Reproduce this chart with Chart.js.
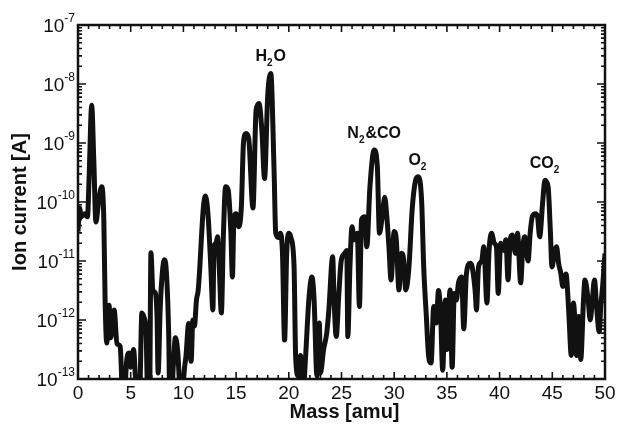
<!DOCTYPE html>
<html>
<head>
<meta charset="utf-8">
<script src="https://cdn.jsdelivr.net/npm/chart.js@4.4.0/dist/chart.umd.min.js"></script>
<style>
    html, body { margin: 0; padding: 0; background: #fff; }
    #wrap { width: 627px; height: 436px; }
</style>
</head>
<body>
<div id="wrap"><canvas id="spectrum" width="627" height="436"></canvas></div>
<script>
// Residual gas mass spectrum: ion current vs mass
var massAmu = [
    0.0, 0.15, 0.3, 0.6, 0.9, 1.05, 1.3, 1.5, 1.7, 1.95,
    2.25, 2.45, 2.57, 2.73, 2.95, 3.1, 3.25, 3.43, 3.7, 4.0,
    4.16, 4.38, 4.63, 4.85, 5.0, 5.27, 5.5, 5.84, 6.06, 6.27,
    6.46, 6.6, 6.8, 6.92, 7.1, 7.33, 7.5, 7.6, 7.8, 8.0,
    8.19, 8.35, 8.6, 8.7, 8.9, 9.05, 9.24, 9.47, 9.65, 9.9,
    10.1, 10.25, 10.5, 10.73, 10.9, 11.05, 11.24, 11.4, 11.56, 11.7,
    11.9, 12.1, 12.35, 12.6, 12.8, 12.9, 13.1, 13.24, 13.4, 13.6,
    13.8, 14.0, 14.25, 14.5, 14.65, 14.8, 15.0, 15.25, 15.5, 15.7,
    15.95, 16.2, 16.6, 16.9, 17.17, 17.45, 17.7, 18.0, 18.29, 18.6,
    18.76, 19.0, 19.2, 19.4, 19.6, 19.8, 20.0, 20.2, 20.5, 20.65,
    20.9, 21.1, 21.4, 21.6, 21.9, 22.19, 22.4, 22.67, 22.9, 23.0,
    23.3, 23.6, 23.8, 24.16, 24.3, 24.5, 24.75, 24.97, 25.3, 25.5,
    25.6, 25.8, 26.0, 26.2, 26.5, 26.7, 26.9, 27.2, 27.4, 27.7,
    28.1, 28.4, 28.6, 28.86, 29.1, 29.3, 29.5, 29.7, 30.0, 30.2,
    30.45, 30.7, 30.9, 31.1, 31.4, 31.7, 32.0, 32.25, 32.6, 32.8,
    33.05, 33.27, 33.5, 33.75, 34.0, 34.2, 34.4, 34.6, 34.85, 35.0,
    35.3, 35.5, 35.7, 35.9, 36.1, 36.4, 36.6, 36.85, 37.2, 37.4,
    37.7, 37.8, 38.0, 38.3, 38.5, 38.8, 39.0, 39.24, 39.5, 39.7,
    39.87, 40.1, 40.4, 40.6, 40.8, 41.0, 41.2, 41.5, 41.7, 42.0,
    42.2, 42.4, 42.7, 42.9, 43.1, 43.4, 43.6, 43.8, 44.1, 44.3,
    44.6, 44.8, 44.97, 45.2, 45.4, 45.6, 45.8, 46.0, 46.3, 46.5,
    46.6, 46.8, 47.0, 47.2, 47.3, 47.5, 47.7, 47.96, 48.1, 48.4,
    48.6, 48.8, 49.0, 49.2, 49.45, 49.6, 49.8, 50.0
];

// exponent of the ion current (A), i.e. log10(I)
var logCurrent = [
    -10.5, -10.1, -10.25, -10.2, -10.25, -9.6, -8.36, -9.3, -10.34, -10.0,
    -9.74, -10.3, -11.66, -12.39, -11.75, -12.3, -12.1, -11.83, -12.4, -12.45,
    -13.0, -13.3, -12.67, -12.56, -12.8, -12.5, -13.1, -13.3, -11.88, -11.96,
    -12.2, -13.2, -13.2, -10.86, -11.49, -11.54, -11.96, -12.9, -11.8, -11.2,
    -10.98, -11.1, -12.2, -13.2, -13.2, -12.75, -12.3, -12.55, -13.1, -13.2,
    -12.82, -12.6, -12.06, -12.7, -12.0, -12.1, -11.66, -11.5, -11.1, -10.64,
    -10.08, -9.9, -10.25, -11.1, -11.83, -10.76, -10.7, -10.59, -11.1, -11.88,
    -10.53, -9.74, -9.8, -10.5, -11.27, -10.25, -10.2, -10.42, -10.08, -9.0,
    -8.84, -8.93, -10.1, -8.44, -8.33, -8.8, -9.6, -8.2, -7.82, -9.44,
    -10.53, -10.6, -10.53, -10.87, -12.34, -10.87, -10.53, -10.6, -11.1, -12.62,
    -12.95, -12.6, -13.1, -12.6, -11.66, -11.27, -11.66, -12.95, -12.05, -12.9,
    -12.5, -12.22, -11.83, -10.93, -11.66, -12.28, -11.55, -11.0, -10.87, -10.82,
    -12.28, -11.1, -10.42, -10.64, -10.53, -11.77, -10.3, -10.25, -10.76, -9.74,
    -9.12, -9.4, -10.53, -10.25, -9.92, -10.25, -10.76, -11.32, -10.5, -10.64,
    -11.49, -10.87, -10.98, -11.49, -11.1, -10.14, -9.65, -9.57, -9.97, -11.1,
    -11.94, -12.62, -12.73, -11.77, -12.05, -11.5, -11.88, -12.85, -11.66, -12.5,
    -11.49, -12.8, -11.55, -11.66, -11.37, -11.27, -12.15, -11.22, -11.04, -11.1,
    -11.55, -11.83, -11.1, -11.0, -10.76, -11.71, -10.82, -10.53, -10.7, -10.76,
    -11.55, -10.7, -10.82, -10.64, -11.32, -10.64, -10.56, -10.87, -10.53, -11.37,
    -10.76, -10.59, -11.0, -10.53, -10.25, -10.2, -10.25, -10.59, -9.97, -9.63,
    -9.74, -10.42, -11.1, -10.87, -10.76, -11.04, -11.2, -11.43, -11.22, -11.66,
    -12.0, -12.6, -11.71, -12.2, -12.6, -11.94, -12.67, -11.66, -11.32, -11.66,
    -12.0, -11.66, -11.32, -11.77, -12.2, -11.77, -11.37, -10.87
];

var xTicks = [0, 5, 10, 15, 20, 25, 30, 35, 40, 45, 50];
var yDecades = [-13, -12, -11, -10, -9, -8, -7];

// peak labels: formula pieces [text, isSubscript], anchored at a peak mass
var peakLabels = [
    { mass: 18.29, parts: [['H', false], ['2', true], ['O', false]] },
    { mass: 28.1, parts: [['N', false], ['2', true], ['&CO', false]] },
    { mass: 32.25, parts: [['O', false], ['2', true]] },
    { mass: 44.3, parts: [['CO', false], ['2', true]] }
];

var points = massAmu.map(function(m, i) {
    return { x: m, y: Math.pow(10, logCurrent[i]) };
});

var FONT = '"Liberation Sans", Arial, sans-serif';

function drawFormula(ctx, parts, cx, baseline) {
    var bigFont = 'bold 16px ' + FONT;
    var subFont = 'bold 10px ' + FONT;
    var total = 0;
    parts.forEach(function(p) {
        ctx.font = p[1] ? subFont : bigFont;
        total += ctx.measureText(p[0]).width + (p[1] ? 1 : 0);
    });
    var x = cx - total / 2;
    ctx.textAlign = 'left';
    ctx.textBaseline = 'alphabetic';
    parts.forEach(function(p) {
        ctx.font = p[1] ? subFont : bigFont;
        ctx.fillText(p[0], x, baseline + (p[1] ? 5 : 0));
        x += ctx.measureText(p[0]).width + (p[1] ? 1 : 0);
    });
}

// frame, inward ticks, tick labels, titles and peak labels
var decorPlugin = {
    id: 'decor',
    afterDraw: function(chart) {
        var ctx = chart.ctx;
        var area = chart.chartArea;
        var xs = chart.scales.x;
        var ys = chart.scales.y;
        ctx.save();
        ctx.strokeStyle = '#111';
        ctx.fillStyle = '#111';

        // box
        ctx.lineWidth = 2.5;
        ctx.strokeRect(area.left, area.top, area.right - area.left, area.bottom - area.top);

        // x ticks (major every 5, minor every 1), top and bottom
        ctx.lineWidth = 1.6;
        for (var m = 0; m <= 50; m++) {
            var px = xs.getPixelForValue(m);
            var len = (m % 5 === 0) ? 7 : 4;
            ctx.beginPath();
            ctx.moveTo(px, area.bottom);
            ctx.lineTo(px, area.bottom - len);
            ctx.moveTo(px, area.top);
            ctx.lineTo(px, area.top + len);
            ctx.stroke();
        }

        // y ticks: decades and 2..9 minors, left and right
        for (var d = -13; d < -7; d++) {
            for (var k = 1; k <= 9; k++) {
                var py = ys.getPixelForValue(k * Math.pow(10, d));
                var l = (k === 1) ? 8 : 4;
                ctx.beginPath();
                ctx.moveTo(area.left, py);
                ctx.lineTo(area.left + l, py);
                ctx.moveTo(area.right, py);
                ctx.lineTo(area.right - l, py);
                ctx.stroke();
            }
        }

        // x tick labels
        ctx.font = '19px ' + FONT;
        ctx.textAlign = 'center';
        ctx.textBaseline = 'middle';
        xTicks.forEach(function(t) {
            ctx.fillText(String(t), xs.getPixelForValue(t), area.bottom + 15);
        });

        // y tick labels as 10 with raised exponent
        var right = area.left - 3;
        yDecades.forEach(function(e) {
            var py = ys.getPixelForValue(Math.pow(10, e));
            ctx.font = '12px ' + FONT;
            var expText = '-' + Math.abs(e);
            var ew = ctx.measureText(expText).width;
            ctx.textAlign = 'left';
            ctx.textBaseline = 'alphabetic';
            ctx.fillText(expText, right - ew, py - 3);
            ctx.font = '19px ' + FONT;
            ctx.textAlign = 'right';
            ctx.fillText('10', right - ew, py + 7);
        });

        // axis titles
        ctx.font = 'bold 20px ' + FONT;
        ctx.textAlign = 'center';
        ctx.textBaseline = 'middle';
        ctx.fillText('Mass [amu]', (area.left + area.right) / 2 + 3, 412);
        ctx.save();
        ctx.translate(20, (area.top + area.bottom) / 2);
        ctx.rotate(-Math.PI / 2);
        ctx.fillText('Ion current [A]', 0, 0);
        ctx.restore();

        // peak labels
        peakLabels.forEach(function(lb) {
            var i = massAmu.indexOf(lb.mass);
            var peakY = ys.getPixelForValue(points[i].y);
            drawFormula(ctx, lb.parts, xs.getPixelForValue(lb.mass), peakY - 12);
        });

        ctx.restore();
    }
};

new Chart(document.getElementById('spectrum'), {
    type: 'line',
    data: {
        datasets: [{
            data: points,
            borderColor: '#111',
            borderWidth: 5,
            pointRadius: 0,
            tension: 0.3,
            cubicInterpolationMode: 'monotone',
            clip: 0,
            fill: false
        }]
    },
    options: {
        responsive: false,
        animation: false,
        layout: { padding: { top: 25, right: 22, left: 0, bottom: 0 } },
        plugins: {
            legend: { display: false },
            tooltip: { enabled: false }
        },
        scales: {
            x: {
                type: 'linear',
                min: 0,
                max: 50,
                grid: { display: false },
                border: { display: false },
                ticks: { display: false },
                afterFit: function(scale) { scale.height = 57; }
            },
            y: {
                type: 'logarithmic',
                min: 1e-13,
                max: 1e-7,
                grid: { display: false },
                border: { display: false },
                ticks: { display: false },
                afterFit: function(scale) { scale.width = 78; }
            }
        }
    },
    plugins: [decorPlugin]
});
</script>
</body>
</html>
